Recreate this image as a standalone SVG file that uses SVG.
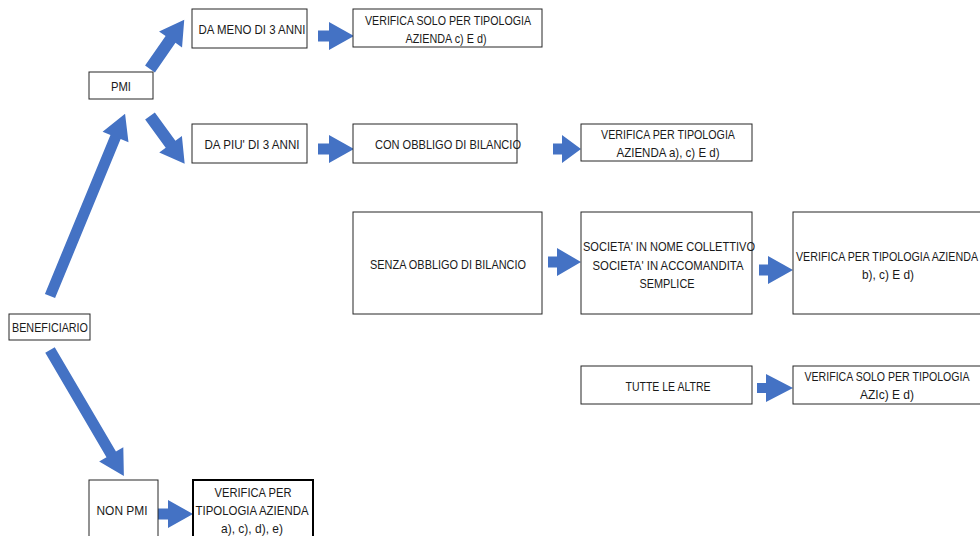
<svg xmlns="http://www.w3.org/2000/svg" width="980" height="536" viewBox="0 0 980 536">
<style>
.b{fill:#fff;stroke:#262626;stroke-width:1}
.bt{fill:#fff;stroke:#000;stroke-width:2}
text{font-family:"Liberation Sans",Arial,sans-serif;font-size:13px;fill:#1a1a1a;text-anchor:middle;dominant-baseline:central}
.a{fill:#4472C4}
</style>
<rect width="980" height="536" fill="#fff"/>
<g id="connectors">
<polygon class="a" points="0,-5.5 172,-5.5 172,-14 197,0 172,14 172,5.5 0,5.5" transform="translate(50,296) rotate(-67.6)"/>
<polygon class="a" points="0,-5.5 121,-5.5 121,-14 146,0 121,14 121,5.5 0,5.5" transform="translate(50,350) rotate(59.6)"/>
<polygon class="a" points="0,-6 36,-6 36,-14 60,0 36,14 36,6 0,6" transform="translate(150,69) rotate(-55.2)"/>
<polygon class="a" points="0,-6 35,-6 35,-14 59,0 35,14 35,6 0,6" transform="translate(150,116) rotate(54)"/>
<polygon class="a" points="318,30.5 329,30.5 329,22 354,36 329,50 329,41.5 318,41.5"/>
<polygon class="a" points="318,143.5 329,143.5 329,135 354,149 329,163 329,154.5 318,154.5"/>
<polygon class="a" points="553,143.5 562,143.5 562,135 581,149 562,163 562,154.5 553,154.5"/>
<polygon class="a" points="548,256.5 557,256.5 557,248 581,262 557,276 557,267.5 548,267.5"/>
<polygon class="a" points="759,264.5 768,264.5 768,256 793,270 768,284 768,275.5 759,275.5"/>
<polygon class="a" points="757,383 766,383 766,374 793,388 766,402 766,393 757,393"/>
<polygon class="a" points="158,508.5 168,508.5 168,500 193,514 168,528 168,519.5 158,519.5"/>
</g>
<g id="pmi"><rect class="b" x="89" y="72" width="64" height="27"/><text x="121" y="86" textLength="20" lengthAdjust="spacingAndGlyphs">PMI</text></g>
<g id="da-meno"><rect class="b" x="192" y="9" width="115" height="39"/><text x="252" y="29" textLength="107" lengthAdjust="spacingAndGlyphs">DA MENO DI 3 ANNI</text></g>
<g id="verifica-solo-cd"><rect class="b" x="353" y="9" width="189" height="38"/><text x="448" y="20" textLength="166" lengthAdjust="spacingAndGlyphs">VERIFICA SOLO PER TIPOLOGIA</text><text x="446" y="38" textLength="81" lengthAdjust="spacingAndGlyphs">AZIENDA  c) E d)</text></g>
<g id="da-piu"><rect class="b" x="192" y="124" width="115" height="39"/><text x="252" y="144" textLength="95" lengthAdjust="spacingAndGlyphs">DA PIU' DI 3 ANNI</text></g>
<g id="con-obbligo"><rect class="b" x="353" y="124" width="164" height="39"/><text x="448" y="144" textLength="146" lengthAdjust="spacingAndGlyphs">CON OBBLIGO DI BILANCIO</text></g>
<g id="verifica-acd"><rect class="b" x="581" y="124" width="171" height="37"/><text x="668" y="134" textLength="134" lengthAdjust="spacingAndGlyphs">VERIFICA PER TIPOLOGIA</text><text x="668" y="152" textLength="103" lengthAdjust="spacingAndGlyphs">AZIENDA a), c) E d)</text></g>
<g id="senza-obbligo"><rect class="b" x="353" y="212" width="189" height="102"/><text x="448" y="264" textLength="156" lengthAdjust="spacingAndGlyphs">SENZA OBBLIGO DI BILANCIO</text></g>
<g id="societa"><rect class="b" x="581" y="212" width="171" height="102"/><text x="669" y="246" textLength="172" lengthAdjust="spacingAndGlyphs">SOCIETA' IN NOME COLLETTIVO</text><text x="668" y="265" textLength="151" lengthAdjust="spacingAndGlyphs">SOCIETA' IN ACCOMANDITA</text><text x="667" y="283" textLength="55" lengthAdjust="spacingAndGlyphs">SEMPLICE</text></g>
<g id="verifica-bcd"><rect class="b" x="793" y="212" width="192" height="102"/><text x="887" y="256" textLength="182" lengthAdjust="spacingAndGlyphs">VERIFICA PER TIPOLOGIA AZIENDA</text><text x="888" y="274" textLength="52" lengthAdjust="spacingAndGlyphs">b), c) E d)</text></g>
<g id="tutte-le-altre"><rect class="b" x="581" y="366" width="171" height="38"/><text x="668" y="386" textLength="85" lengthAdjust="spacingAndGlyphs">TUTTE LE ALTRE</text></g>
<g id="verifica-solo-azi"><rect class="b" x="793" y="366" width="192" height="38"/><text x="887" y="376" textLength="165" lengthAdjust="spacingAndGlyphs">VERIFICA SOLO PER TIPOLOGIA</text><text x="887" y="394" textLength="54" lengthAdjust="spacingAndGlyphs">AZIc) E d)</text></g>
<g id="beneficiario"><rect class="b" x="9" y="314" width="81" height="26"/><text x="50" y="327" textLength="76" lengthAdjust="spacingAndGlyphs">BENEFICIARIO</text></g>
<g id="non-pmi"><rect class="b" x="89" y="480" width="69" height="60"/><text x="122" y="510" textLength="51" lengthAdjust="spacingAndGlyphs">NON PMI</text></g>
<g id="verifica-acde"><rect class="bt" x="193" y="480" width="120" height="60"/><text x="253" y="492" textLength="77" lengthAdjust="spacingAndGlyphs">VERIFICA  PER</text><text x="252" y="510" textLength="113" lengthAdjust="spacingAndGlyphs">TIPOLOGIA AZIENDA</text><text x="252" y="528" textLength="62" lengthAdjust="spacingAndGlyphs">a), c), d), e)</text></g>
</svg>
